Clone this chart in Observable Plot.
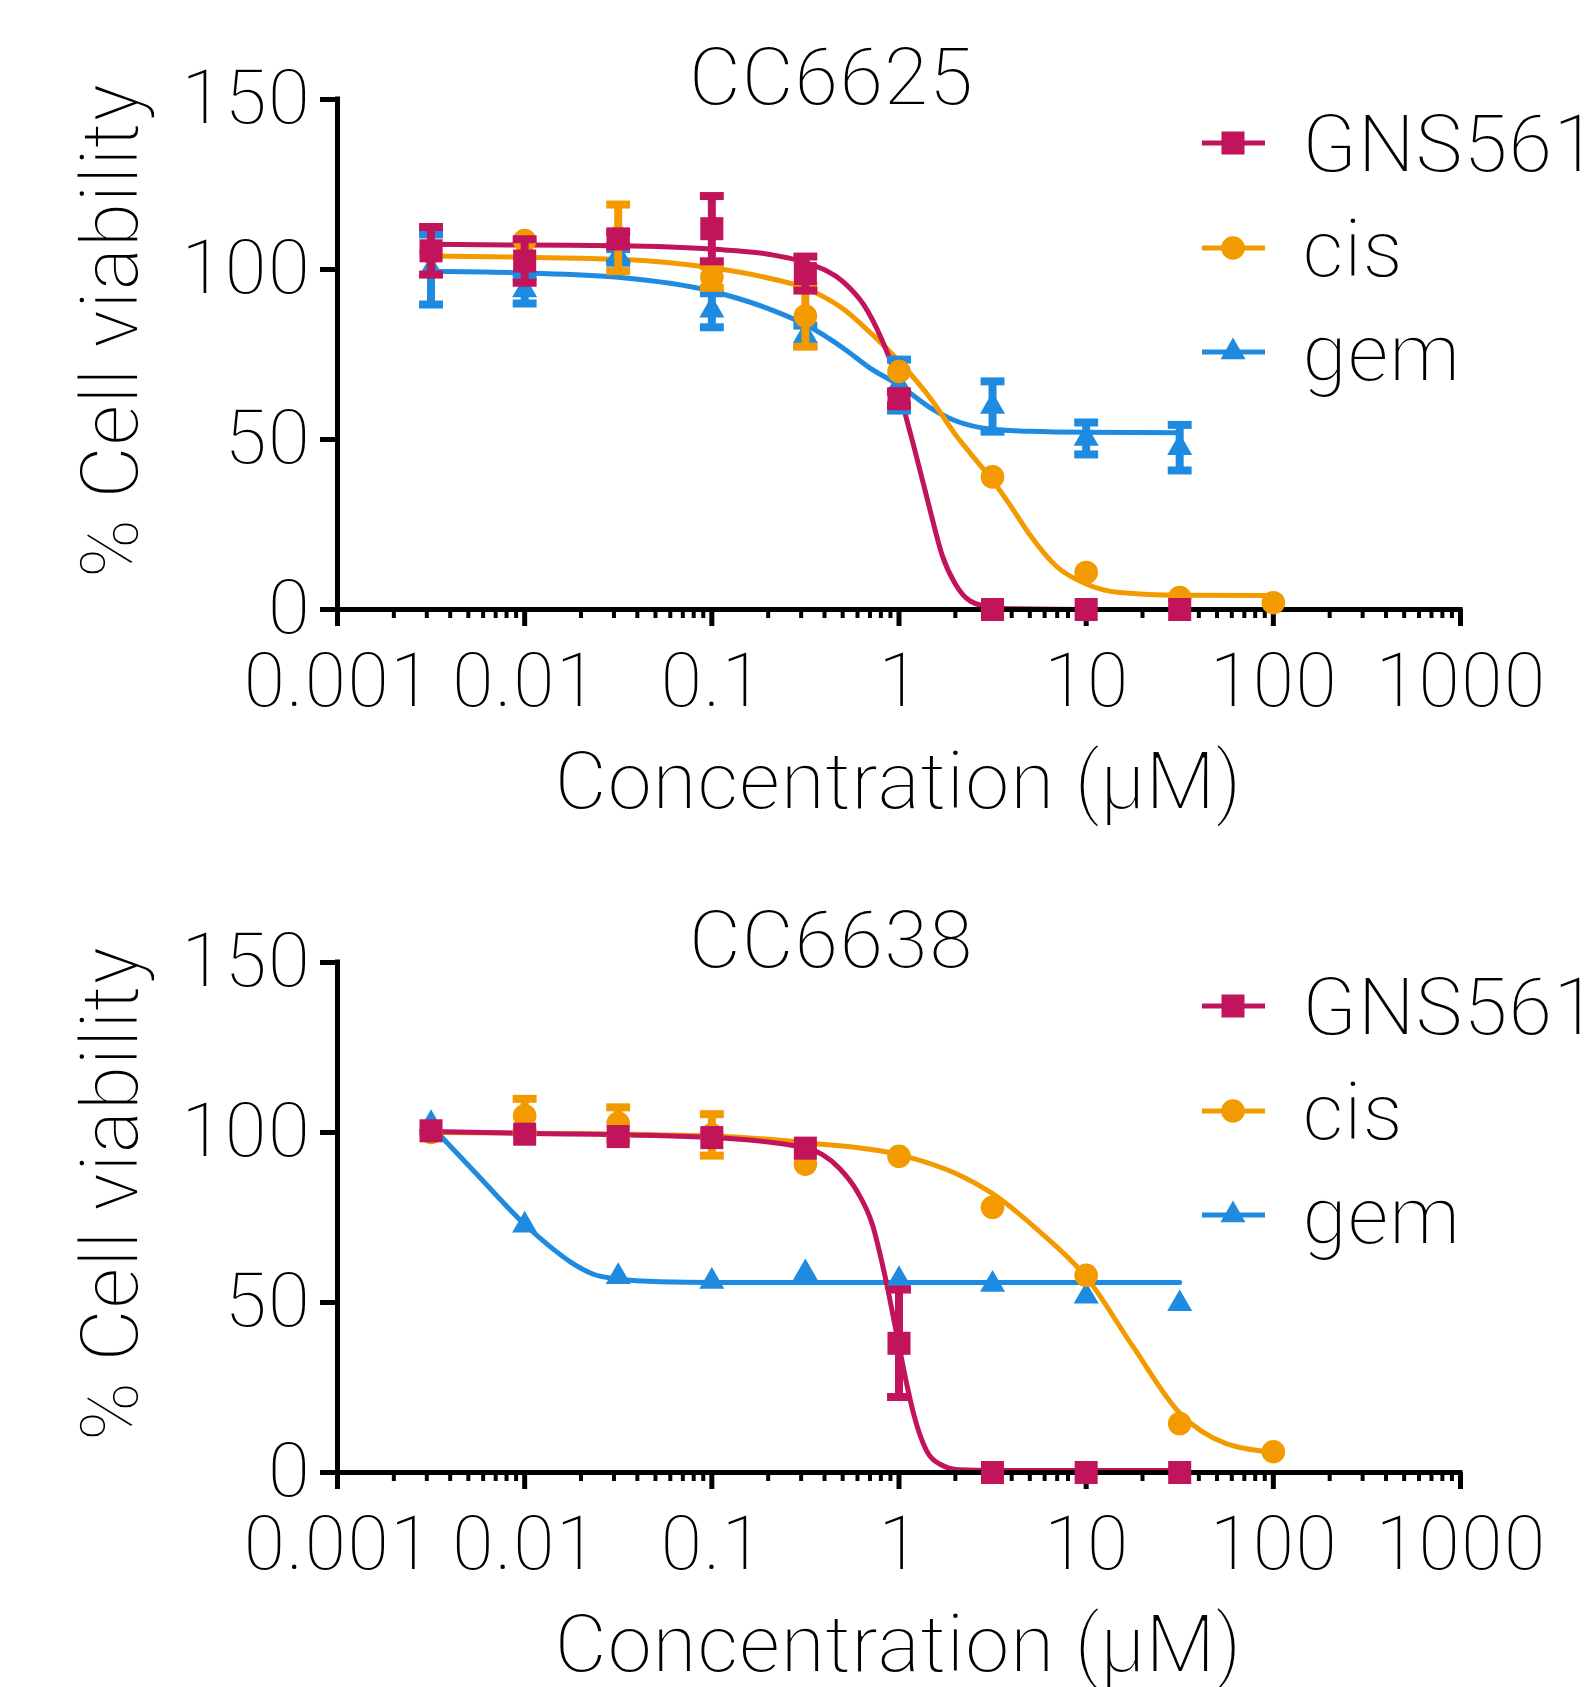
<!DOCTYPE html>
<html>
<head>
<meta charset="utf-8">
<script src="https://cdn.jsdelivr.net/npm/d3@7"></script>
<script src="https://cdn.jsdelivr.net/npm/@observablehq/plot@0.6"></script>
<style>
  html, body { margin: 0; padding: 0; background: #fff; overflow: hidden; }
  .panel { position: relative; width: 1589px; height: 863px; }
  .panel svg { position: absolute; left: 0; top: 0; }
  .overlay { pointer-events: none; }
  .panel svg text { stroke: #fff; stroke-width: 1.8px; paint-order: normal; }
</style>
</head>
<body>
<div id="chart"></div>
<script>
// ---------------- DATA ----------------
const drugs = ["GNS561", "cis", "gem"];
const drugColors = ["#C1145A", "#F39A00", "#1E8BE0"];
const drugSymbols = ["square", "circle", "triangle"];

const conc = [0.00316, 0.01, 0.0316, 0.1, 0.316, 1, 3.16, 10, 31.6, 100];

const xTicks = [0.001, 0.01, 0.1, 1, 10, 100, 1000];
const xTickLabels = ["0.001", "0.01", "0.1", "1", "10", "100", "1000"];
const yTicks = [0, 50, 100, 150];
const xLabel = "Concentration (µM)";
const yLabel = "% Cell viability";
const panelTitles = ["CC6625", "CC6638"];

// CC6625 — mean % viability and error (SEM) per concentration
const cc6625_GNS561 = [105.5, 102.5, 109, 112, 98.8, 62, 0, 0, 0, null];
const cc6625_GNS561_err = [7, 6.4, 2, 9.6, 5, 2, 0, 0, 0, null];
const cc6625_cis = [105, 108.5, 109.3, 97.8, 86.3, 70, 39, 10.9, 3.5, 2];
const cc6625_cis_err = [0, 0, 9.8, 3.2, 9, 0, 0, 0, 0, 0];
const cc6625_gem = [100, 94, 104, 88, 80.5, 66, 59.7, 50.3, 47.6, null];
const cc6625_gem_err = [10.3, 4, 2, 5, 3, 7.5, 7.4, 4.7, 6.7, null];

// CC6638
const cc6638_GNS561 = [100.5, 99.5, 98.8, 98.5, 95.4, 38, 0, 0, 0, null];
const cc6638_GNS561_err = [0, 0, 0, 0, 0, 15.8, 0, 0, 0, null];
const cc6638_cis = [100, 104.9, 102.7, 99.3, 90.7, 93, 78, 58, 14.4, 6.1];
const cc6638_cis_err = [0, 5, 4.7, 6.1, 0, 0, 0, 0, 0, 0];
const cc6638_gem = [102.6, 72.7, 57.6, 56.2, 58.7, 56.7, 55.3, 51.8, 49.6, null];
const cc6638_gem_err = [0, 0, 0, 0, 0, 0, 0, 0, 0, null];

// Fitted curves as [concentration, % viability]
const cc6625_GNS561_fit = [[0.00316,107.4],[0.01,107.2],[0.0316,107],[0.1,106],[0.2,104.5],[0.316,102],[0.5,96.5],[0.65,89.5],[0.8,80],[0.9,73],[1.05,60],[1.2,48],[1.35,37],[1.5,27],[1.7,16],[2,7.5],[2.4,2.5],[3.16,0.6],[4.2,0.2],[10,0],[31.6,0]];
const cc6625_cis_fit = [[0.00316,104],[0.01,103.6],[0.0316,103],[0.1,100.5],[0.2,97.5],[0.316,94.5],[0.5,88.5],[0.7,81.5],[1,73],[1.5,61.5],[2,51.5],[2.4,46],[3.16,38],[4,30],[5,22],[7,12.5],[10,7.5],[15,5],[31.6,4.2],[100,4.1]];
const cc6625_gem_fit = [[0.00316,99.5],[0.01,99],[0.0316,97.7],[0.1,93.6],[0.2,88.5],[0.316,83.8],[0.5,77],[0.7,71],[1,66],[1.5,59],[2,55.5],[3.16,53],[5,52.4],[10,52.1],[31.6,52]];

const cc6638_GNS561_fit = [[0.00316,100.3],[0.01,99.8],[0.1,98.5],[0.316,95.5],[0.39,93.5],[0.48,89.5],[0.6,82.5],[0.72,73],[0.84,58],[0.97,41],[1.1,26],[1.2,17],[1.4,6.5],[1.65,2.5],[2.1,0.8],[3.16,0.6],[31.6,0.6]];
const cc6638_cis_fit = [[0.00316,100],[0.01,99.8],[0.1,99],[0.316,97],[1,93.5],[2,88],[3.16,82],[5.6,71],[10,57.5],[17.8,37],[31.6,17.5],[56,8.5],[100,6]];
const cc6638_gem_fit = [[0.00316,102],[0.0056,87.5],[0.01,73],[0.0142,65.7],[0.0177,61.8],[0.0233,58.3],[0.0316,56.9],[0.053,56.1],[0.1,55.9],[1,55.9],[31.6,55.9]];

// ---------------- BUILD ----------------
const W = 1589, H = 863;
const FONT = "'Roboto Light', Roboto, 'Open Sans', sans-serif";
const AXW = 5;

const minorTicks = [];
for (let e = -3; e < 3; e++) for (let k = 2; k <= 9; k++) minorTicks.push(+(k * Math.pow(10, e)).toPrecision(3));

const capSymbol = { draw(ctx, size) { const w = Math.sqrt(size); ctx.moveTo(-w / 2, 0); ctx.lineTo(w / 2, 0); } };
const symbolR = { square: 13, circle: 11.8, triangle: 9.3 };
const capR = 13.5;

function rows(means, errs) {
  return conc.map((c, i) => ({ conc: c, mean: means[i], err: errs[i] })).filter(d => d.mean != null);
}

function panel(title, seriesMeans, seriesErrs, seriesFits) {
  const div = document.createElement("div");
  div.className = "panel";
  const marks = [];
  for (let s = drugs.length - 1; s >= 0; s--) {
    marks.push(Plot.line(seriesFits[s], { x: d => d[0], y: d => d[1], stroke: drugColors[s], strokeWidth: 5, curve: "monotone-x" }));
  }
  marks.push(Plot.ruleY([yTicks[0]], { x1: xTicks[0], x2: xTicks[xTicks.length - 1], strokeWidth: AXW, strokeLinecap: "square" }));
  marks.push(Plot.ruleX([xTicks[0]], { y1: yTicks[0], y2: yTicks[yTicks.length - 1], strokeWidth: AXW, strokeLinecap: "square" }));
  marks.push(Plot.axisX({ ticks: minorTicks, tickSize: 9, strokeWidth: 4, tickFormat: () => "", label: null }));
  marks.push(Plot.axisX({ ticks: xTicks, tickSize: 17, strokeWidth: AXW, tickPadding: 26, tickFormat: d => xTickLabels[xTicks.indexOf(d)], label: null, fontSize: 77 }));
  marks.push(Plot.axisY({ ticks: yTicks, tickSize: 17, strokeWidth: AXW, tickPadding: 10, label: null, fontSize: 78 }));
  for (let s = drugs.length - 1; s >= 0; s--) {
    const data = rows(seriesMeans[s], seriesErrs[s]);
    const withErr = data.filter(d => d.err > 0);
    marks.push(Plot.ruleX(withErr, { x: "conc", y1: d => d.mean - d.err, y2: d => d.mean + d.err, stroke: drugColors[s], strokeWidth: 8 }));
    marks.push(Plot.dot(withErr, { x: "conc", y: d => d.mean + d.err, symbol: capSymbol, r: capR, stroke: drugColors[s], strokeWidth: 8, strokeLinecap: "butt", fill: "none" }));
    marks.push(Plot.dot(withErr, { x: "conc", y: d => d.mean - d.err, symbol: capSymbol, r: capR, stroke: drugColors[s], strokeWidth: 8, strokeLinecap: "butt", fill: "none" }));
    marks.push(Plot.dot(data, { x: "conc", y: "mean", symbol: drugSymbols[s], r: symbolR[drugSymbols[s]], fill: drugColors[s], stroke: "none" }));
  }
  const plot = Plot.plot({
    width: W, height: H,
    marginLeft: 337, marginRight: 129, marginTop: 99, marginBottom: 254,
    x: { type: "log", domain: [xTicks[0], xTicks[xTicks.length - 1]] },
    y: { domain: [yTicks[0], yTicks[yTicks.length - 1]] },
    style: { fontFamily: FONT, fontWeight: 300, fontSize: "78px", color: "#000", background: "transparent", overflow: "visible" },
    marks
  });
  div.appendChild(plot);

  const svg = d3.create("svg").attr("class", "overlay").attr("width", W).attr("height", H)
    .style("font-family", FONT).style("font-weight", 300);
  svg.append("text").attr("x", 831).attr("y", 105).attr("text-anchor", "middle").attr("font-size", 81).text(title);
  svg.append("text").attr("x", 898).attr("y", 809).attr("text-anchor", "middle").attr("font-size", 81).text(xLabel);
  svg.append("text").attr("transform", "translate(138,331) rotate(-90)").attr("text-anchor", "middle").attr("font-size", 81).text(yLabel);
  const rowsY = [143, 248, 352];
  drugs.forEach((name, s) => {
    const g = svg.append("g").attr("transform", `translate(0,${rowsY[s]})`);
    g.append("line").attr("x1", 1202).attr("x2", 1265).attr("y1", 0).attr("y2", 0).attr("stroke", drugColors[s]).attr("stroke-width", 5);
    const r = symbolR[drugSymbols[s]];
    const type = { square: d3.symbolSquare, circle: d3.symbolCircle, triangle: d3.symbolTriangle }[drugSymbols[s]];
    g.append("path").attr("transform", "translate(1233,0)").attr("d", d3.symbol(type, Math.PI * r * r)()).attr("fill", drugColors[s]);
    g.append("text").attr("x", 1302).attr("y", 29).attr("font-size", 81).text(name);
  });
  div.appendChild(svg.node());
  return div;
}

const root = document.getElementById("chart");
root.appendChild(panel(panelTitles[0],
  [cc6625_GNS561, cc6625_cis, cc6625_gem],
  [cc6625_GNS561_err, cc6625_cis_err, cc6625_gem_err],
  [cc6625_GNS561_fit, cc6625_cis_fit, cc6625_gem_fit]));
root.appendChild(panel(panelTitles[1],
  [cc6638_GNS561, cc6638_cis, cc6638_gem],
  [cc6638_GNS561_err, cc6638_cis_err, cc6638_gem_err],
  [cc6638_GNS561_fit, cc6638_cis_fit, cc6638_gem_fit]));
</script>
</body>
</html>
